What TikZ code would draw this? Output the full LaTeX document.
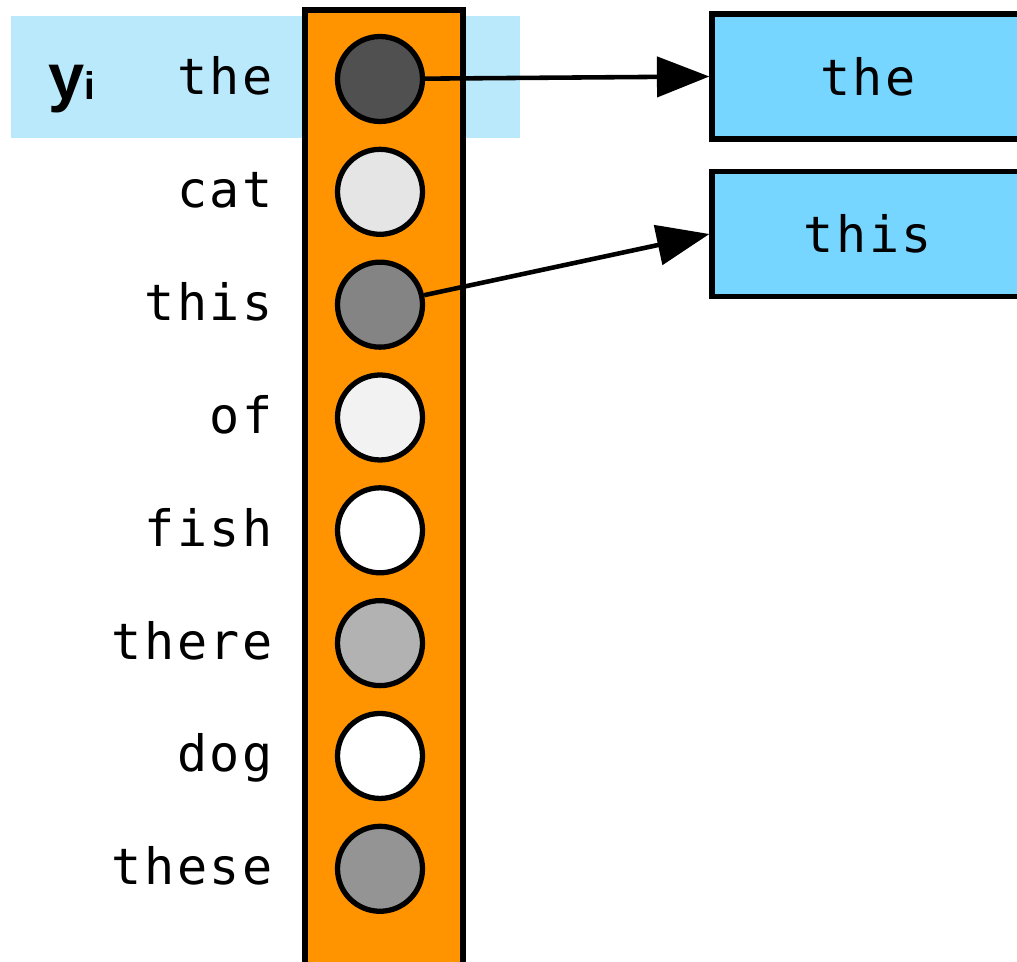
\documentclass[tikz,border=0pt]{standalone}
\usepackage{fontspec}
\usepackage{xcolor}
\usetikzlibrary{positioning}
\usetikzlibrary{arrows.meta}

\newfontfamily\monoword[LetterSpace=5]{DejaVu Sans Mono}
\newfontfamily\sanslabel{Liberation Sans}
\newcommand{\wordtype}{\monoword\fontsize{28.5}{34}\selectfont}

\definecolor{bandblue}{HTML}{BBE9FC}
\definecolor{layerorange}{HTML}{FF9400}
\definecolor{boxblue}{HTML}{76D6FF}

\begin{document}
\begin{tikzpicture} [
       x=0.02cm, y=-0.02cm,
       unit/.style={circle, draw=black, line width=3pt,
               minimum size=1.7cm, inner sep=0pt},
       word/.style={font=\wordtype, inner sep=0pt,
               text height=0.78cm, text depth=0.14cm},
       target/.style={rectangle, draw=black, line width=3pt, fill=boxblue,
               minimum width=6.24cm, minimum height=2.5cm, inner sep=0pt,
               font=\wordtype},
       layer/.style={rectangle, draw=black, line width=3pt, fill=layerorange,
               minimum width=3.16cm, minimum height=19.8cm},
       line/.style={draw, line width=2.6pt, -{Triangle[length=1.05cm, width=0.8cm]}},
       node distance=2.257cm,
       ]
       \useasboundingbox (0,0) rectangle (1017,962);
       \clip (0,0) rectangle (1017,962);
       % highlighted row
       \fill[bandblue] (11,16) rectangle (520,138);
       \node (yi) [anchor=base west, inner sep=0pt, font=\sanslabel\bfseries\fontsize{37}{40}\selectfont]
               at (48,100) {y\fontsize{22}{24}\selectfont i};
       % output layer
       \node (column) [layer] at (384,505) {};
       \node (c1) [unit, fill={rgb,255:red,80;green,80;blue,80}] at (380,79) {};
       \node (c2) [unit, fill={rgb,255:red,229;green,229;blue,229}, below of = c1] {};
       \node (c3) [unit, fill={rgb,255:red,132;green,132;blue,132}, below of = c2] {};
       \node (c4) [unit, fill={rgb,255:red,242;green,242;blue,242}, below of = c3] {};
       \node (c5) [unit, fill=white, below of = c4] {};
       \node (c6) [unit, fill={rgb,255:red,178;green,178;blue,178}, below of = c5] {};
       \node (c7) [unit, fill=white, below of = c6] {};
       \node (c8) [unit, fill={rgb,255:red,148;green,148;blue,148}, below of = c7] {};
       % vocabulary
       \node (w1) [word, left=1.24cm of c1] {the};
       \node (w2) [word, left=1.24cm of c2] {cat};
       \node (w3) [word, left=1.24cm of c3] {this};
       \node (w4) [word, left=1.24cm of c4] {of};
       \node (w5) [word, left=1.24cm of c5] {fish};
       \node (w6) [word, left=1.24cm of c6] {there};
       \node (w7) [word, left=1.24cm of c7] {dog};
       \node (w8) [word, left=1.24cm of c8] {these};
       % chosen words
       \node (t1) [target] at (868,76.5) {the};
       \node (t2) [target] at (868,234) {this};
        \begin{scope}[every path/.style=line]
        \path (c1) -- (t1.west);
        \path (c3) -- (t2.west);
\end{scope}
\end{tikzpicture}
\end{document}
